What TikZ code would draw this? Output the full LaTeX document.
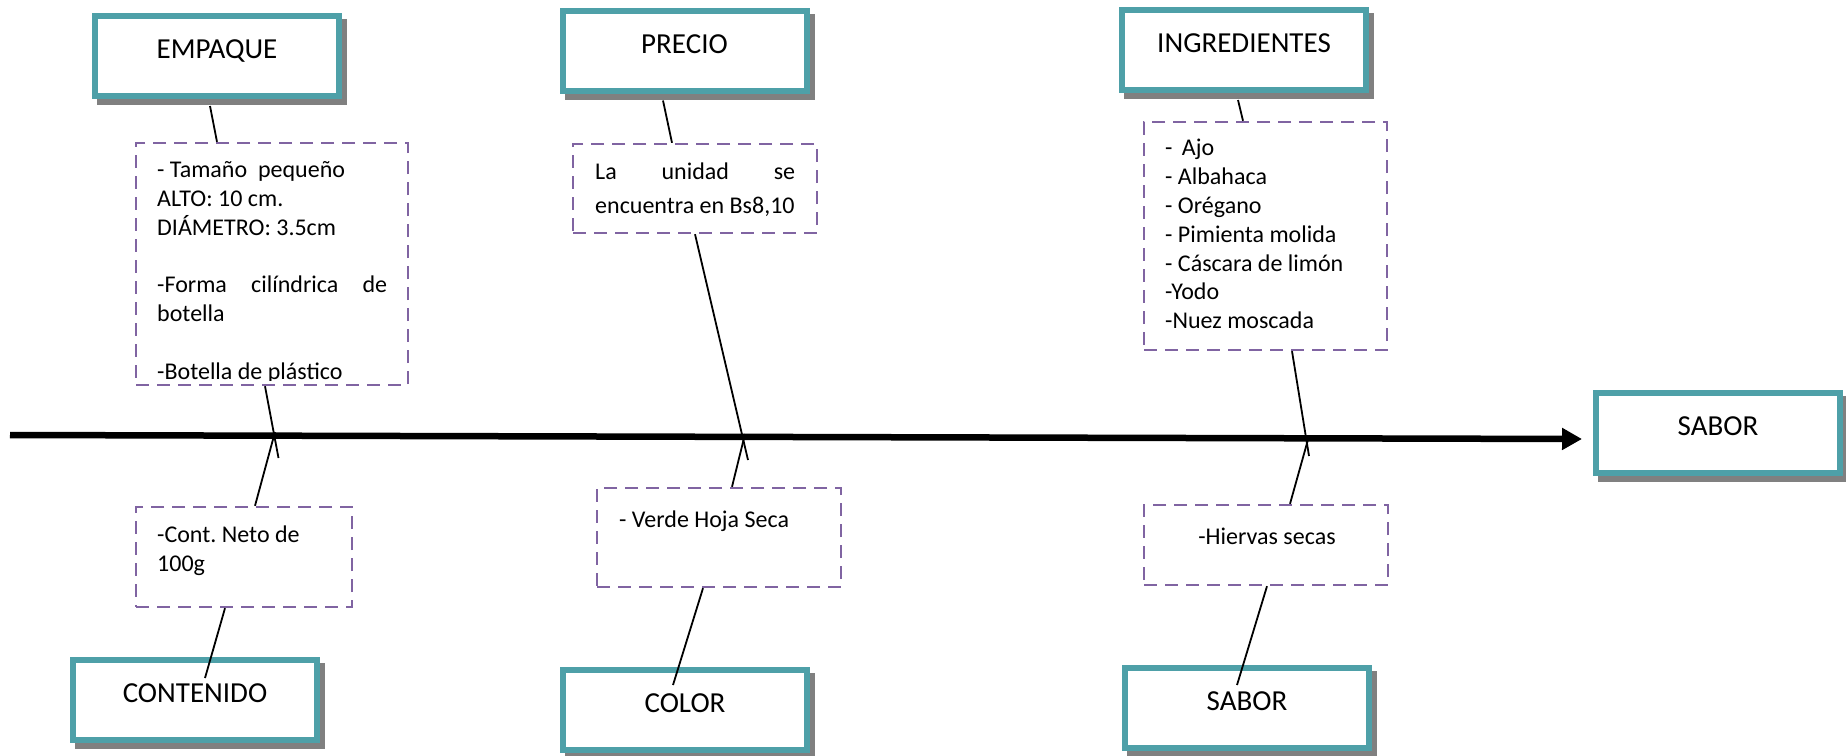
\documentclass[tikz,border=0pt]{standalone}
\usepackage{fontspec}
\setmainfont{Carlito}
\usetikzlibrary{arrows.meta}
\definecolor{tealline}{RGB}{78,160,168}
\definecolor{shadowgray}{RGB}{128,128,128}
\definecolor{dashpurple}{RGB}{128,100,162}
\newcommand{\catlabelfont}{\fontsize{29pt}{34pt}\selectfont}
\newcommand{\notefont}{\fontsize{24pt}{28.8pt}\selectfont\frenchspacing}
\begin{document}
\begin{tikzpicture}[x=1pt,y=-1pt,
  catbox/.style={draw=tealline, line width=6pt, fill=white,
    minimum width=244pt, minimum height=80pt, inner sep=0pt,
    font=\catlabelfont, text height=20pt, text depth=15pt,
    preaction={draw=shadowgray, fill=shadowgray, line width=6pt,
      transform canvas={shift={(5pt,-6pt)}}}},
  notebox/.style={draw=dashpurple, line width=2.4pt, dash pattern=on 13pt off 8pt, inner sep=0pt},
  notetext/.style={anchor=north west, inner sep=0pt, font=\notefont, align=left},
  link/.style={draw=black, line width=1.8pt},
  spine/.style={draw=black, line width=6.5pt, -{Triangle[length=20pt,width=21pt]}}
]
\useasboundingbox (0,0) rectangle (1846,755);
\fill[white] (0,0) rectangle (1846,755);

% category boxes
\node[catbox] (empaque)   at (217,56)     {EMPAQUE};
\node[catbox] (precio)    at (684.5,50.5) {PRECIO};
\node[catbox] (ingred)    at (1244,50)    {INGREDIENTES};
\node[catbox] (saborR)    at (1718,433)   {SABOR};
\node[catbox] (contenido) at (195,700)    {CONTENIDO};
\node[catbox] (color)     at (685,710)    {COLOR};
\node[catbox] (saborB)    at (1247,707.5) {SABOR};

% dashed detail boxes
\node[notebox, minimum width=272pt, minimum height=242pt] (d1) at (272,264) {};
\node[notebox, minimum width=244pt, minimum height=89pt]  (d2) at (695,188.5) {};
\node[notebox, minimum width=243pt, minimum height=228pt] (d3) at (1265.5,236) {};
\node[notebox, minimum width=216pt, minimum height=100pt] (d4) at (244,557) {};
\node[notebox, minimum width=244pt, minimum height=99pt]  (d5) at (719,537.5) {};
\node[notebox, minimum width=244pt, minimum height=80pt]  (d6) at (1266,545) {};

% detail texts
\begin{scope}
  \clip (d1.north west) rectangle ([yshift=6pt]d1.south east);
  \node[notetext] (t1) at (157,155.5)
    {\rule{0pt}{22pt}- Tamaño\ \ pequeño\\ ALTO: 10 cm.\\ DIÁMETRO: 3.5cm\\[28.8pt]
     \hbox to 230pt{-Forma\hfill cilíndrica\hfill de}\\ botella\\[28.8pt] -Botella de plástico};
\end{scope}
\node[notetext] (t2) at (595,157.5)
  {\rule{0pt}{22pt}\hbox to 200pt{La\hfill unidad\hfill se}\\[4.5pt] encuentra en Bs8,10};
\node[notetext] (t3) at (1165,133.7)
  {\rule{0pt}{22pt}- \hspace{4pt}Ajo\\ - Albahaca\\ - Orégano\\ - Pimienta molida\\
   - Cáscara de limón\\ -Yodo\\ -Nuez moscada};
\node[notetext] (t4) at (157,520.7) {\rule{0pt}{22pt}-Cont. Neto de\\ 100g};
\node[notetext, anchor=base west] (t5) at (619,527.7) {- Verde Hoja Seca};
\node[notetext, anchor=base] (t6) at (1267,544.7) {-Hiervas secas};

% main spine
\coordinate (spineStart) at (10,435);
\draw[spine] (spineStart) -- ([xshift=-11pt,yshift=-6pt]saborR.west);

% crossing points on the spine
\coordinate (x1) at (278.5,458);
\coordinate (x2) at (275,432);
\coordinate (x3) at (748,460);
\coordinate (x4) at (745,434);
\coordinate (x5) at (1309,456);
\coordinate (x6) at (1309,436);

% connectors
\draw[link] ([xshift=-7pt,yshift=-7pt]empaque.south) -- ([xshift=-55pt]d1.north);
\draw[link] ([xshift=-7pt]d1.south) -- (x1);
\draw[link] ([xshift=11pt]d4.north) -- (x2);
\draw[link] ([xshift=-19pt]d4.south) -- ([xshift=10pt,yshift=22pt]contenido.center);

\draw[link] ([xshift=-21.5pt,yshift=-7pt]precio.south) -- ([xshift=-23pt]d2.north);
\draw[link] (d2.south) -- (x3);
\draw[link] ([xshift=13pt]d5.north) -- (x4);
\draw[link] ([xshift=-16pt]d5.south) -- ([xshift=-12pt,yshift=25pt]color.center);

\draw[link] ([xshift=-6pt,yshift=-7pt]ingred.south) -- ([xshift=-22.5pt]d3.north);
\draw[link] ([xshift=26.5pt]d3.south) -- (x5);
\draw[link] ([xshift=24pt]d6.north) -- (x6);
\draw[link] ([xshift=1pt]d6.south) -- ([xshift=-10pt,yshift=22.5pt]saborB.center);
\end{tikzpicture}
\end{document}
